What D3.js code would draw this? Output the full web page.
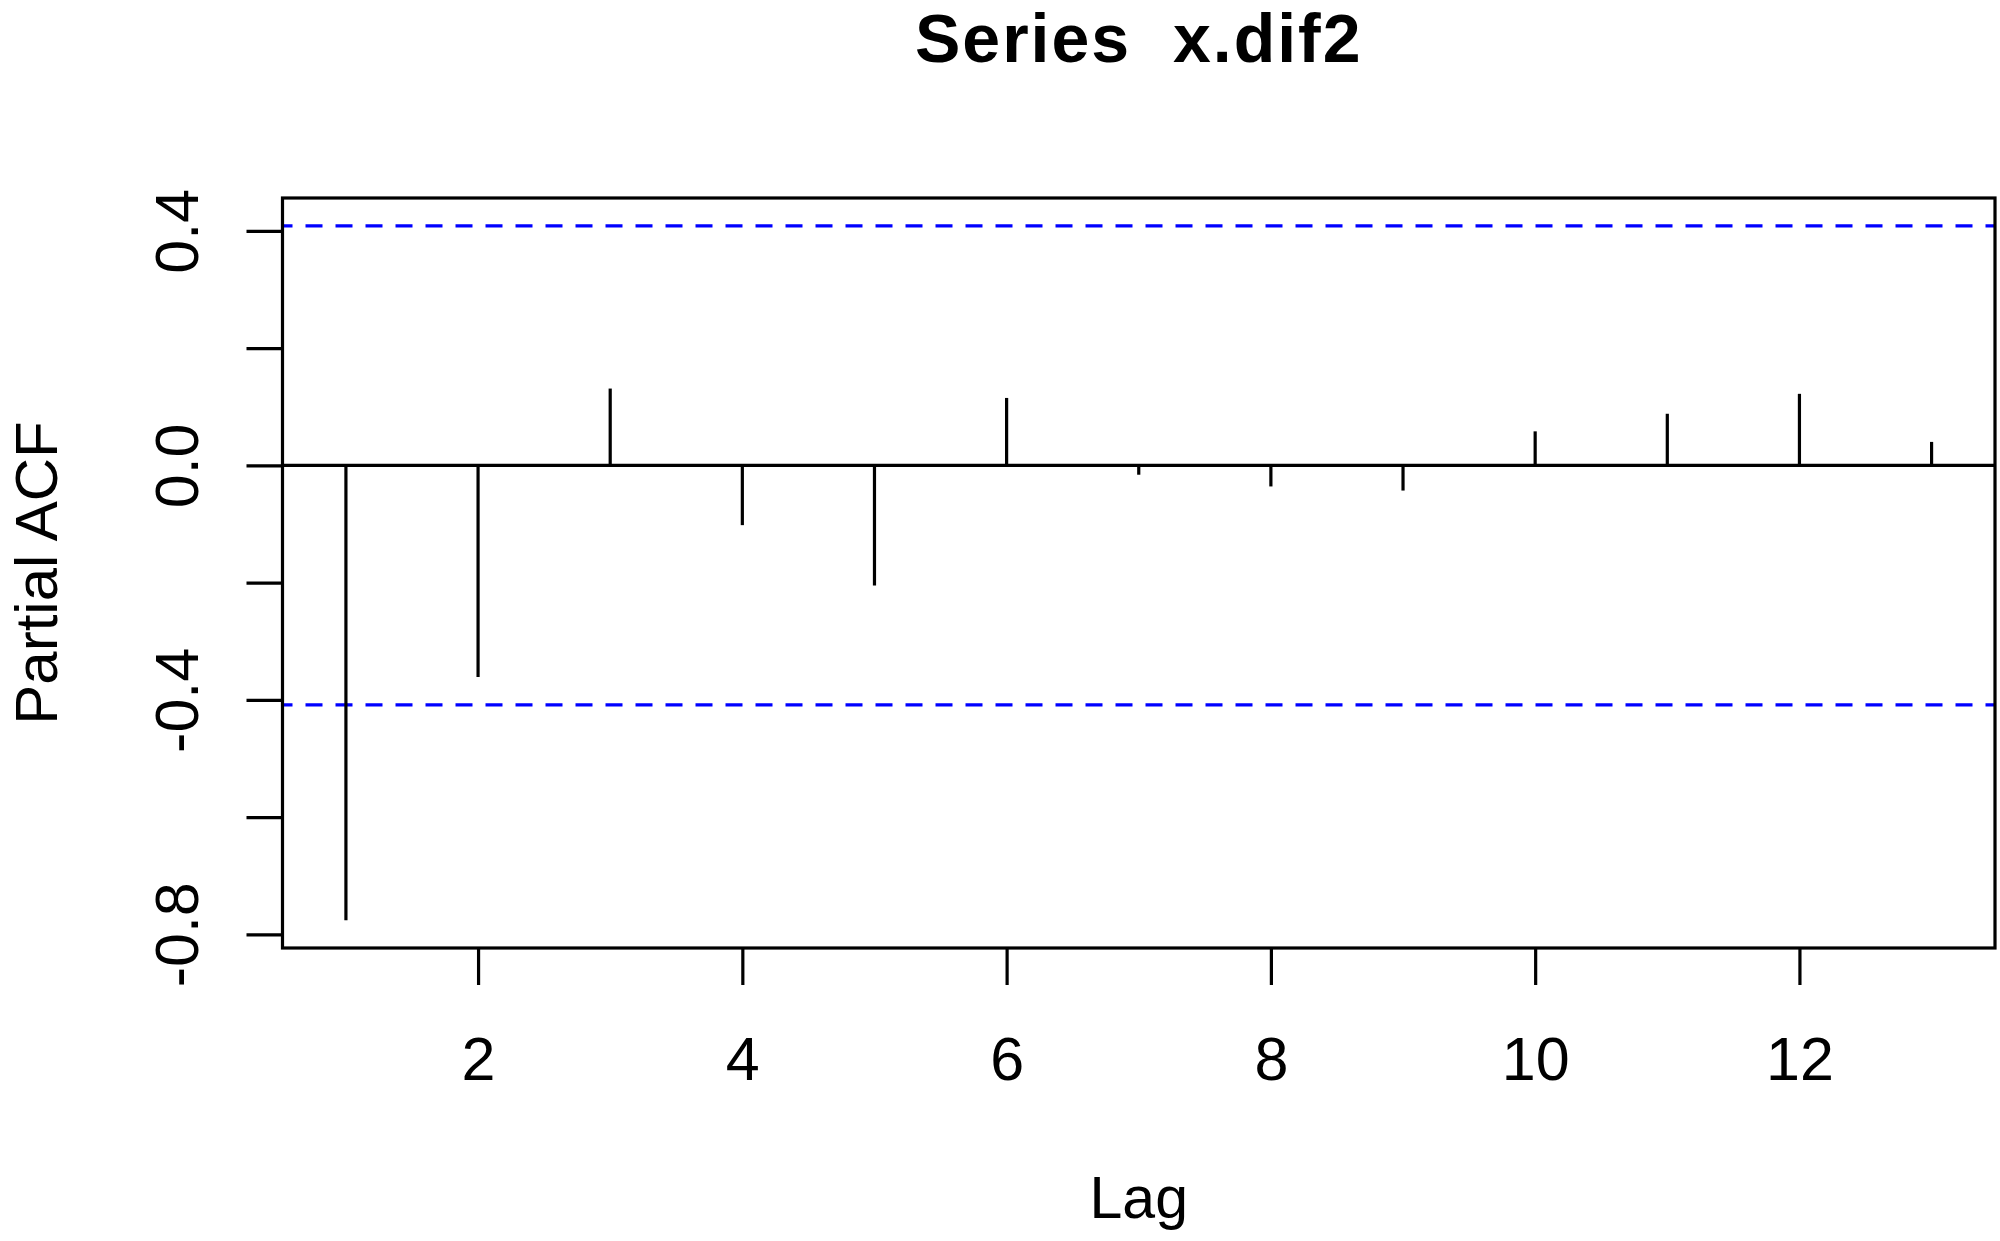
<!DOCTYPE html>
<html>
<head>
<meta charset="utf-8">
<script src="https://cdn.jsdelivr.net/npm/d3@7"></script>
<style>
  html, body { margin: 0; padding: 0; background: #fff; }
  svg { display: block; }
  text { font-family: "Liberation Sans", Arial, Helvetica, sans-serif; fill: #000; }
</style>
</head>
<body>
<svg id="chart" width="2000" height="1241"></svg>
<script>
// ---- data ----
const titleText = "Series  x.dif2";
const xLabel = "Lag";
const yLabel = "Partial ACF";
const lags = [1, 2, 3, 4, 5, 6, 7, 8, 9, 10, 11, 12, 13];
const pacf = [-0.776, -0.361, 0.131, -0.102, -0.205, 0.115, -0.016, -0.036, -0.043, 0.058, 0.088, 0.122, 0.040];
const ciBound = 0.4087;
const xTicks = [2, 4, 6, 8, 10, 12];
const yTicks = [-0.8, -0.6, -0.4, -0.2, 0.0, 0.2, 0.4];
const yTickLabels = ["-0.8", "", "-0.4", "", "0.0", "", "0.4"];

// ---- layout ----
const plot = { left: 282.5, right: 1995, top: 198, bottom: 948 };
const svg = d3.select("#chart");

// R-style 4% padding of the data range
function padded(ext) { const d = (ext[1] - ext[0]) * 0.04; return [ext[0] - d, ext[1] + d]; }
const xDom = padded(d3.extent(lags));
const yDom = padded([Math.min(d3.min(pacf), -ciBound), Math.max(d3.max(pacf), ciBound)]);

const x = d3.scaleLinear().domain(xDom).range([plot.left, plot.right]);
const y = d3.scaleLinear().domain(yDom).range([plot.bottom, plot.top]);

const lw = 3.2;

// clip for plot region lines
svg.append("defs").append("clipPath").attr("id", "clip")
  .append("rect").attr("x", plot.left).attr("y", plot.top)
  .attr("width", plot.right - plot.left).attr("height", plot.bottom - plot.top);

const g = svg.append("g").attr("clip-path", "url(#clip)");

// confidence bounds (dashed blue)
g.selectAll("line.ci").data([ciBound, -ciBound]).enter().append("line")
  .attr("class", "ci")
  .attr("x1", plot.left).attr("x2", plot.right)
  .attr("y1", d => y(d)).attr("y2", d => y(d))
  .attr("stroke", "#0000ff").attr("stroke-width", lw)
  .attr("stroke-dasharray", "17,13").attr("stroke-dashoffset", 7);

// zero line
g.append("line")
  .attr("x1", plot.left).attr("x2", plot.right)
  .attr("y1", y(0)).attr("y2", y(0))
  .attr("stroke", "#000").attr("stroke-width", lw);

// spikes
g.selectAll("line.spike").data(lags).enter().append("line")
  .attr("class", "spike")
  .attr("x1", d => x(d)).attr("x2", d => x(d))
  .attr("y1", y(0)).attr("y2", (d, i) => y(pacf[i]))
  .attr("stroke", "#000").attr("stroke-width", lw);

// box
svg.append("rect")
  .attr("x", plot.left).attr("y", plot.top)
  .attr("width", plot.right - plot.left).attr("height", plot.bottom - plot.top)
  .attr("fill", "none").attr("stroke", "#000").attr("stroke-width", lw);

// x axis
const xAxis = d3.axisBottom(x).tickValues(xTicks).tickSize(37).tickPadding(0).tickFormat(d3.format("d"));
const xg = svg.append("g").attr("transform", `translate(0,${plot.bottom})`).call(xAxis);
xg.select(".domain").remove();
xg.selectAll(".tick line").attr("stroke", "#000").attr("stroke-width", lw);
xg.selectAll(".tick text")
  .attr("y", 132).attr("dy", null)
  .attr("font-size", 61).attr("font-family", "Liberation Sans, Arial, sans-serif")
  .attr("fill", "#000");

// y axis
const yAxis = d3.axisLeft(y).tickValues(yTicks).tickSize(36).tickFormat((d, i) => yTickLabels[i]);
const yg = svg.append("g").attr("transform", `translate(${plot.left},0)`).call(yAxis);
yg.select(".domain").remove();
yg.selectAll(".tick line").attr("stroke", "#000").attr("stroke-width", lw);
yg.selectAll(".tick text")
  .attr("x", null).attr("dy", null)
  .attr("transform", `translate(${198 - plot.left},0) rotate(-90)`)
  .attr("text-anchor", "middle")
  .attr("font-size", 61).attr("font-family", "Liberation Sans, Arial, sans-serif")
  .attr("fill", "#000");

// title
svg.append("text")
  .attr("x", (plot.left + plot.right) / 2).attr("y", 62)
  .attr("text-anchor", "middle")
  .attr("font-size", 68).attr("font-weight", "bold")
  .attr("letter-spacing", 2)
  .attr("xml:space", "preserve").style("white-space", "pre")
  .text(titleText);

// axis labels
svg.append("text")
  .attr("x", (plot.left + plot.right) / 2).attr("y", 1218)
  .attr("text-anchor", "middle").attr("font-size", 59)
  .text(xLabel);

svg.append("text")
  .attr("transform", `translate(57,${(plot.top + plot.bottom) / 2}) rotate(-90)`)
  .attr("text-anchor", "middle").attr("font-size", 60)
  .text(yLabel);
</script>
</body>
</html>
